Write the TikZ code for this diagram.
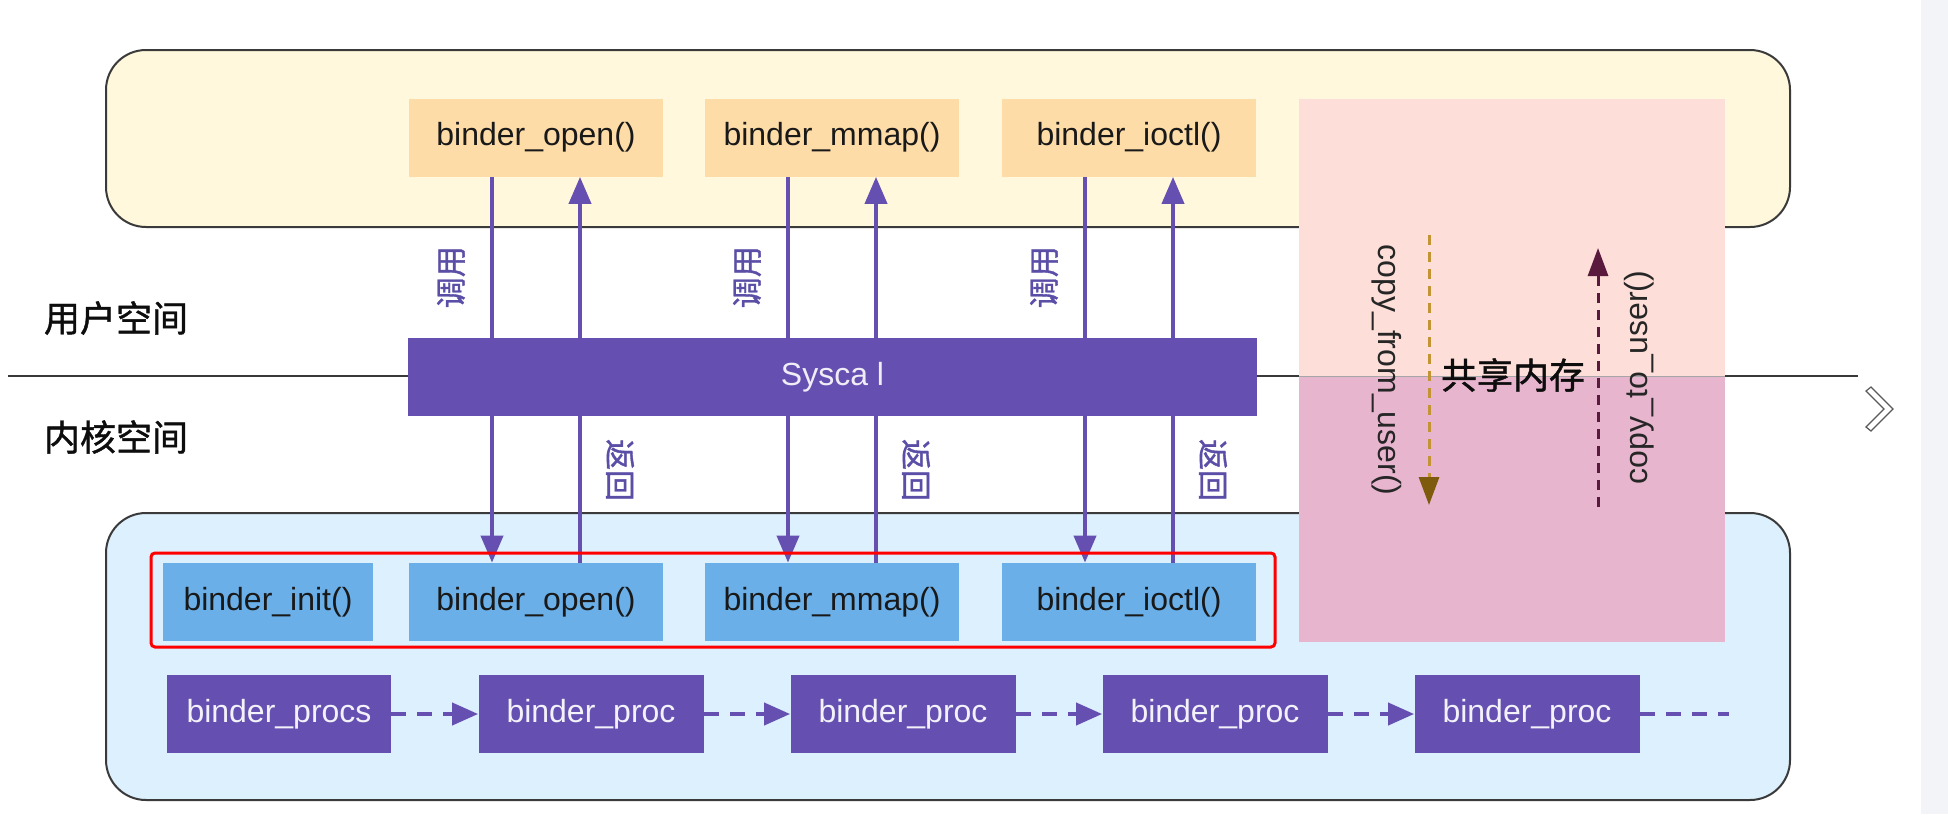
\documentclass[tikz,border=0pt]{standalone}
\usepackage{fontspec}
\setmainfont{Liberation Sans}
\newfontfamily\cjk{Noto Sans CJK SC}[FakeBold=1.2]
\usepackage{tikz}
\usepackage{xcolor}
\usetikzlibrary{shapes, positioning, arrows.meta}

\definecolor{userbg}{HTML}{FFF8DC}
\definecolor{userfn}{HTML}{FDDCA8}
\definecolor{kernbg}{HTML}{DDF0FD}
\definecolor{kernfn}{HTML}{6AAFE8}
\definecolor{binderpurple}{HTML}{6550B1}
\definecolor{shmtop}{HTML}{FDDED9}
\definecolor{shmbot}{HTML}{E8B5CE}
\definecolor{copyfrom}{HTML}{C29433}
\definecolor{copyfromhead}{HTML}{7E5A0C}
\definecolor{copyto}{HTML}{5A1A3E}
\definecolor{labelpurple}{HTML}{5A4EA6}
\definecolor{framegray}{HTML}{3A3A3A}
\definecolor{sidegray}{HTML}{F3F4F8}

\begin{document}
\begin{tikzpicture}[x=0.5pt, y=-0.5pt,
        fnbox/.style={rectangle, inner sep=0pt, minimum height=39pt, font=\fontsize{16}{18}\selectfont},
        userfunc/.style={fnbox, fill=userfn, text=black!90, minimum width=127pt},
        kernfunc/.style={fnbox, fill=kernfn, text=black!90, minimum width=127pt},
        procbox/.style={fnbox, fill=binderpurple, text=white!92!binderpurple, minimum width=112.5pt},
        callarrow/.style={draw=binderpurple, line width=2pt, -{Triangle[width=11pt,length=13.5pt]}},
        listarrow/.style={draw=binderpurple, line width=2pt, dash pattern=on 7.5pt off 5.5pt, -{Triangle[width=11pt,length=13pt]}},
        vlabel/.style={text=labelpurple, font=\cjk\fontsize{15.5}{15.5}\selectfont, inner sep=0pt},
        region/.style={draw=framegray, line width=1pt, rounded corners=20pt},
        spacelabel/.style={font=\cjk\fontsize{18}{18}\selectfont, text=black!95, inner sep=0pt},
        copylabel/.style={font=\fontsize{16}{18}\selectfont, text=black!85, inner sep=0pt}
    ]
        \useasboundingbox (0, 0) rectangle (1948, 814);
        \fill[sidegray] (1921, 0) rectangle (1948, 814);
        \draw[gray!70!black, line width=0.6pt, fill=white] (1866, 391) -- (1871, 387) -- (1893, 409)
        -- (1871, 431) -- (1866, 427) -- (1884, 409) -- cycle;

        % user space / kernel space
        \draw[region, fill=userbg] (106, 50) rectangle (1790, 227);
        \draw[region, fill=kernbg] (106, 513) rectangle (1790, 800);
        \draw[framegray, line width=1pt] (8, 376) -- (1858, 376);
        \node[spacelabel] at (116, 318) (userlabel) {用户空间};
        \node[spacelabel] at (116, 437) (kernlabel) {内核空间};

        % shared memory
        \fill[shmtop] (1299, 99) rectangle (1725, 376);
        \fill[shmbot] (1299, 376) rectangle (1725, 642);
        \draw[black!35, line width=0.4pt] (1299, 376) -- (1725, 376);

        \node[userfunc] at (536, 137.5) (uopen) {binder\_open()};
        \node[userfunc] at (832, 137.5) (ummap) {binder\_mmap()};
        \node[userfunc] at (1129, 137.5) (uioctl) {binder\_ioctl()};

        \node[kernfunc, minimum width=105pt] at (268, 602) (kinit) {binder\_init()};
        \node[kernfunc] at (536, 602) (kopen) {binder\_open()};
        \node[kernfunc] at (832, 602) (kmmap) {binder\_mmap()};
        \node[kernfunc] at (1129, 602) (kioctl) {binder\_ioctl()};

        \node[procbox, minimum width=112pt] at (279, 714) (procs) {binder\_procs};
        \node[procbox] at (591, 714) (proca) {binder\_proc};
        \node[procbox] at (903, 714) (procb) {binder\_proc};
        \node[procbox] at (1215, 714) (procc) {binder\_proc};
        \node[procbox] at (1527, 714) (procd) {binder\_proc};
        \coordinate (procend) at (1729, 714);

        \draw[listarrow] (procs) -- (proca);
        \draw[listarrow] (proca) -- (procb);
        \draw[listarrow] (procb) -- (procc);
        \draw[listarrow] (procc) -- (procd);
        \draw[draw=binderpurple, line width=2pt, dash pattern=on 7.5pt off 5.5pt] (procd) -- (procend);

        % call / return through the syscall
        \draw[callarrow] ([xshift=-22pt]uopen.south) -- ([xshift=-22pt]kopen.north)
        node[vlabel, pos=0.26, xshift=-20.5pt, rotate=90] {调用};
        \draw[callarrow] ([xshift=22pt]kopen.north) -- ([xshift=22pt]uopen.south)
        node[vlabel, pos=0.24, xshift=20pt, rotate=-90] {返回};
        \draw[callarrow] ([xshift=-22pt]ummap.south) -- ([xshift=-22pt]kmmap.north)
        node[vlabel, pos=0.26, xshift=-20.5pt, rotate=90] {调用};
        \draw[callarrow] ([xshift=22pt]kmmap.north) -- ([xshift=22pt]ummap.south)
        node[vlabel, pos=0.24, xshift=20pt, rotate=-90] {返回};
        \draw[callarrow] ([xshift=-22pt]uioctl.south) -- ([xshift=-22pt]kioctl.north)
        node[vlabel, pos=0.26, xshift=-20.5pt, rotate=90] {调用};
        \draw[callarrow] ([xshift=22pt]kioctl.north) -- ([xshift=22pt]uioctl.south)
        node[vlabel, pos=0.24, xshift=20pt, rotate=-90] {返回};

        \node[fnbox, fill=binderpurple, text=white!90!binderpurple, minimum width=424.5pt] at (832.5, 377) (syscall) {Sysca l};

        \draw[red, line width=1.5pt, rounded corners=2pt] (151, 553) rectangle (1275, 647);

        % copies across the shared memory
        \coordinate (fromtop) at (1429, 235);
        \coordinate (frombot) at (1429, 505);
        \coordinate (tobot) at (1598, 507);
        \coordinate (totop) at (1598, 248);
        \draw[copyfrom, line width=1.5pt, dash pattern=on 5pt off 3.5pt,
        -{Triangle[width=10pt,length=14pt,color=copyfromhead]}] (fromtop) -- (frombot)
        node[copylabel, midway, xshift=-21pt, rotate=-90] {copy\_from\_user()};
        \draw[copyto, line width=1.5pt, dash pattern=on 5pt off 3.5pt,
        -{Triangle[width=10pt,length=14pt]}] (tobot) -- (totop)
        node[copylabel, midway, xshift=20.5pt, rotate=90] {copy\_to\_user()};
        \node[spacelabel] at (1513, 375) (shmlabel) {共享内存};
    \end{tikzpicture}
\end{document}
